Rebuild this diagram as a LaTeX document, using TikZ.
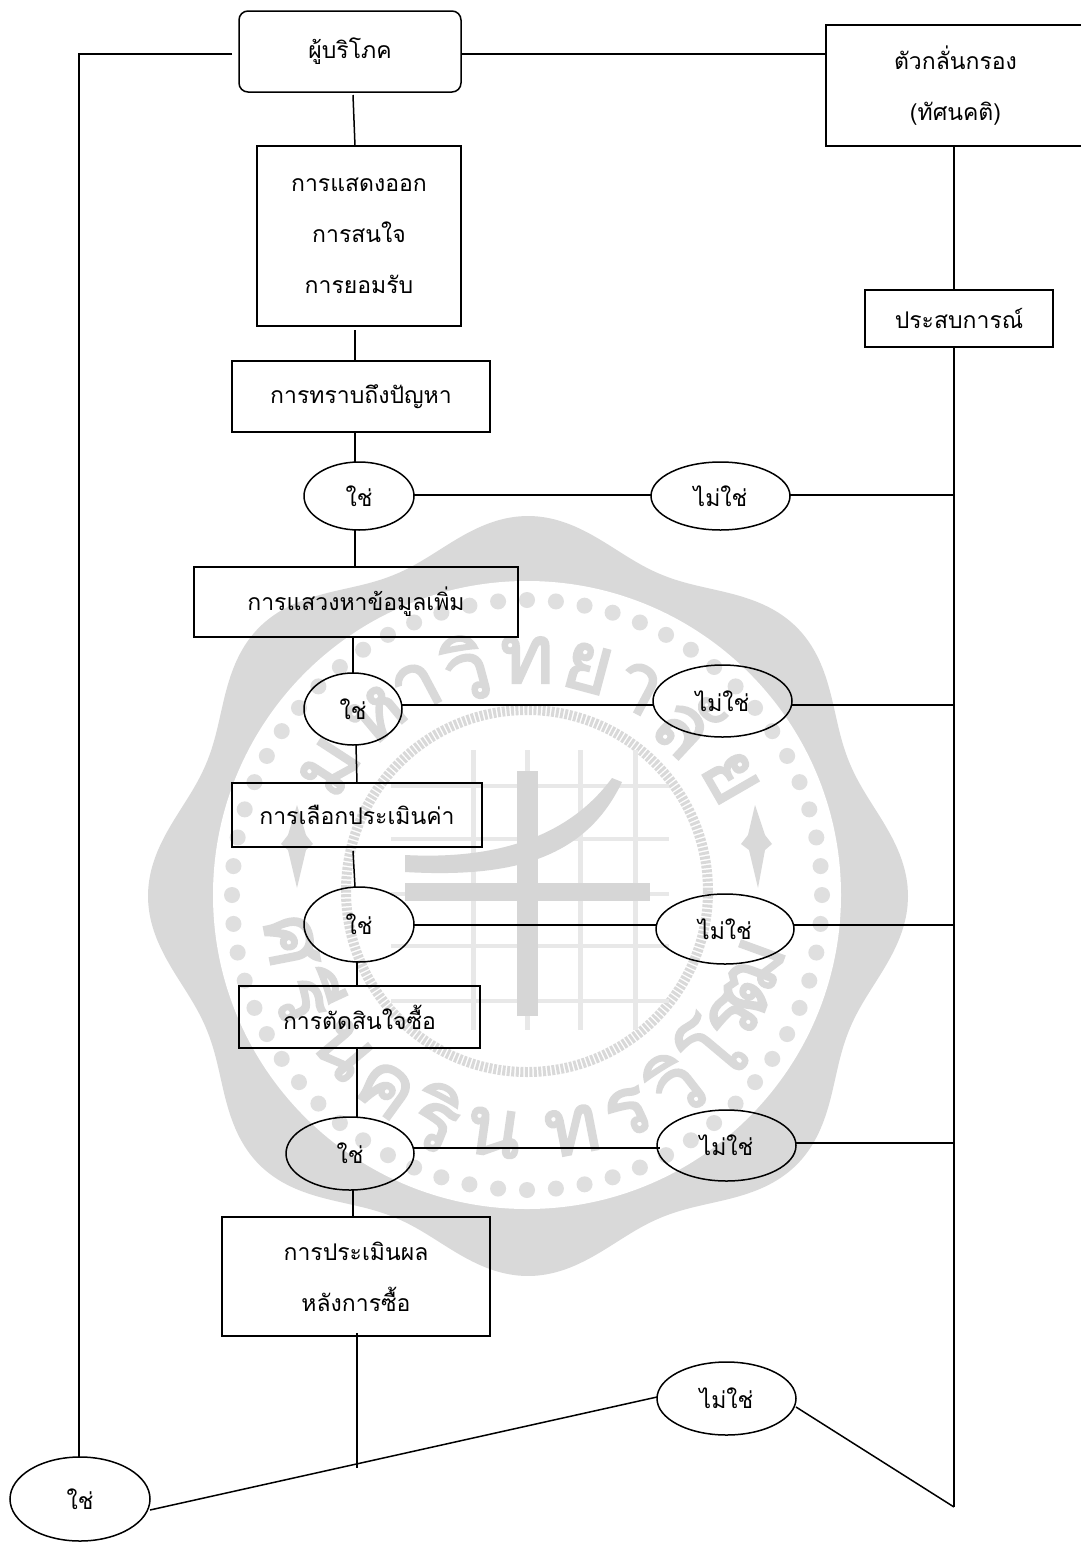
\documentclass[tikz,border=0pt]{standalone}
\usepackage{fontspec}
\usetikzlibrary{shapes.geometric}
\newfontfamily\thaifont[Script=Thai]{Loma}
\newfontfamily\sealfont[Script=Thai,FakeBold=2.5]{Loma}
\definecolor{sealband}{HTML}{D9D9D9}
\definecolor{sealdot}{HTML}{DFDFDF}
\definecolor{sealline}{HTML}{E8E8E8}
\definecolor{sealbar}{HTML}{D6D6D6}
\tikzset{
  lbl/.style={font=\thaifont\fontsize{23}{51}\selectfont,align=center,inner sep=0pt,outer sep=0pt},
  boxn/.style={lbl,draw=black,line width=1.5pt,rectangle,minimum width=#1},
  rbox/.style={lbl,draw=black,line width=1.5pt,rectangle,rounded corners=9pt,minimum width=222pt,minimum height=81pt},
  oval/.style={lbl,draw=black,line width=1.5pt,ellipse,minimum width=#1},
  conn/.style={draw=black,line width=1.5pt},
  sealglyph/.style={font=\sealfont\fontsize{82}{82}\selectfont,text=sealband,inner sep=0pt}
}
\begin{document}
\begin{tikzpicture}[x=1pt,y=-1pt]
\clip (0,0) rectangle (1081,1542);
\fill[white] (0,0) rectangle (1081,1542);
% watermark seal
\fill[sealband] plot[domain=0:360,samples=240,smooth] ({528+(364+16*cos(8*\x))*cos(\x)},{896+(364+16*cos(8*\x))*sin(\x)}) -- cycle;
\fill[white] (527,895) circle (314);
\foreach \i in {0,...,63} \fill[sealdot] ({527+295*cos(\i*5.625)},{895+295*sin(\i*5.625)}) circle (8);
\draw[sealband,line width=10pt,dash pattern=on 3pt off 1.5pt] (527,891) circle (181);
\foreach \gx in {473,527,580,635} \draw[sealline,line width=5pt] (\gx,750) -- (\gx,1030);
\foreach \gy in {786,839,894,946,1001} \draw[sealline,line width=4pt] (391,\gy) -- (669,\gy);
\fill[sealbar] (517,771) rectangle (538,1016);
\fill[sealbar] (405,883) rectangle (650,901);
\fill[sealbar] (405,855) .. controls (500,860) and (570,835) .. (612,778) -- (622,782) .. controls (585,860) and (510,878) .. (405,872) -- cycle;
\fill[sealband] (755,805) -- (765,835) -- (772,844) -- (765,850) -- (758,888) -- (749,850) -- (741,844) -- (748,835) -- cycle;
\fill[sealband] (297,805) -- (306,835) -- (313,844) -- (306,850) -- (297,888) -- (288,850) -- (281,844) -- (288,835) -- cycle;
\foreach \a/\t in {147/ม,130/ห,118/า,105/วิ,90/ท,75/ย,62/า,47/ลั,30/ย}
  \node[sealglyph,rotate=\a-90] at ({527+235*cos(\a)},{895-235*sin(\a)}) {\t};
\foreach \a/\t in {191/ศ,205/รี,220/น,234/ค,248/ริ,262/น,281/ท,295/ร,308/วิ,320/โ,329/ร,340/ฒ}
  \node[sealglyph,rotate=\a-270] at ({527+240*cos(\a)},{895-240*sin(\a)}) {\t};
% nodes
\node[rbox] (consumer) at (350,51.5) {ผู้บริโภค};
\node[boxn=204pt,minimum height=180pt] (show) at (359,236) {การแสดงออก\\การสนใจ\\การยอมรับ};
\node[boxn=258pt,minimum height=71pt] (problem) at (361,396.5) {การทราบถึงปัญหา};
\node[oval=110pt,minimum height=68pt] (y1) at (359,496) {ใช่};
\node[oval=139pt,minimum height=68pt] (n1) at (720.5,496) {ไม่ใช่};
\node[boxn=324pt,minimum height=70pt] (search) at (356,602) {การแสวงหาข้อมูลเพิ่ม};
\node[oval=98pt,minimum height=72pt] (y2) at (353,709) {ใช่};
\node[oval=139pt,minimum height=72pt] (n2) at (722.5,701) {ไม่ใช่};
\node[boxn=250pt,minimum height=64pt] (evaluate) at (357,815) {การเลือกประเมินค่า};
\node[oval=110pt,minimum height=75pt] (y3) at (359,924.5) {ใช่};
\node[oval=138pt,minimum height=70pt] (n3) at (725,929) {ไม่ใช่};
\node[boxn=241pt,minimum height=62pt] (decide) at (359.5,1017) {การตัดสินใจซื้อ};
\node[oval=128pt,minimum height=73pt] (y4) at (350,1153.5) {ใช่};
\node[oval=139pt,minimum height=71pt] (n4) at (726.5,1145.5) {ไม่ใช่};
\node[boxn=268pt,minimum height=119pt] (post) at (356,1276.5) {การประเมินผล\\หลังการซื้อ};
\node[oval=139pt,minimum height=73pt] (n5) at (726.5,1398.5) {ไม่ใช่};
\node[oval=140pt,minimum height=84pt] (y5) at (80,1499) {ใช่};
\node[boxn=259pt,minimum height=121pt] (filter) at (955.5,85.5) {ตัวกลั่นกรอง\\(ทัศนคติ)};
\node[boxn=188pt,minimum height=57pt] (exp) at (959,318.5) {ประสบการณ์};
% junctions
\coordinate (j0) at (954,54);
\coordinate (j1) at (954,495);
\coordinate (j2) at (954,705);
\coordinate (j3) at (954,925);
\coordinate (j4) at (954,1143);
\coordinate (jend) at (954,1507);
\coordinate (jleft) at (79,54);
\coordinate (jcons) at (232,54);
\coordinate (jpost) at (357,1468);
% connectors
\draw[conn] (jcons) -- (jleft) -- (y5.north -| jleft);
\draw[conn] (consumer.east |- j0) -- (filter.west |- j0);
\draw[conn] (353,95) -- (show.north -| 355,0);
\draw[conn] (355,330) -- (problem.north -| 355,0);
\draw[conn] (problem.south -| 355,0) -- (y1.north -| 355,0);
\draw[conn] (y1.south -| 355,0) -- (search.north -| 355,0);
\draw[conn] (search.south -| 353,0) -- (y2.north -| 353,0);
\draw[conn] (y2.south -| 356,0) -- (evaluate.north -| 357,0);
\draw[conn] (353,851) -- (y3.north -| 355,0);
\draw[conn] (y3.south -| 357,0) -- (decide.north -| 357,0);
\draw[conn] (decide.south -| 357,0) -- (y4.north -| 357,0);
\draw[conn] (y4.south -| 353,0) -- (post.north -| 353,0);
\draw[conn,line width=1.2pt] (357,1333) -- (jpost);
\draw[conn] (y1.east |- j1) -- (n1.west |- j1);
\draw[conn] (n1.east |- j1) -- (j1);
\draw[conn] (y2.east |- j2) -- (n2.west |- j2);
\draw[conn] (n2.east |- j2) -- (j2);
\draw[conn] (y3.east |- j3) -- (n3.west |- j3);
\draw[conn] (n3.east |- j3) -- (j3);
\draw[conn] (414,1148) -- (660,1148);
\draw[conn] (n4.east |- j4) -- (j4);
\draw[conn] (filter.south -| j1) -- (exp.north -| j1);
\draw[conn] (exp.south -| j1) -- (jend);
\draw[conn] (y5.east |- 0,1510) -- (n5.west |- 0,1397);
\draw[conn] (n5.east |- 0,1407) -- (jend);
\end{tikzpicture}
\end{document}
